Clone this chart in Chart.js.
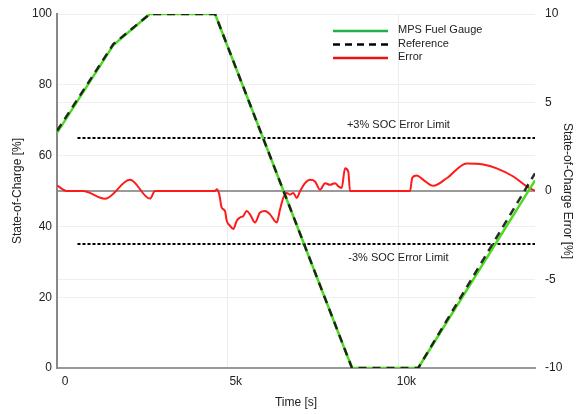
<!DOCTYPE html>
<html>
<head>
<meta charset="utf-8">
<script src="https://cdn.jsdelivr.net/npm/chart.js@4.4.0/dist/chart.umd.min.js"></script>
<style>
    html, body { margin: 0; padding: 0; background: #fff; }
    #wrap { width: 577px; height: 414px; }
</style>
</head>
<body>
<div id="wrap"><canvas id="socChart"></canvas></div>
<script>
// SOC profile, time in seconds
const socTime = [0, 1650, 2720, 4630, 8640, 10580, 14000];
const socValues = [66.4, 91.2, 100, 100, 0, 0, 53];
const refValues = [67, 91.5, 100, 100, 0, 0, 55];

// SOC error (right axis, %)
const errTime = [0, 284, 762, 1406, 2138, 2724, 2870, 4628, 4686, 4754, 4824, 4921, 4971, 5067, 5164, 5264,
    5360, 5457, 5556, 5653, 5800, 5946, 6093, 6239, 6435, 6532, 6628, 6728, 6825, 6921, 7021, 7118, 7264,
    7410, 7557, 7703, 7850, 7996, 8143, 8240, 8339, 8436, 8532, 8582, 10340, 10407, 10536, 10729, 11022,
    11414, 12000, 12486, 12879, 13365, 13757, 14000];
const errValues = [0.32, 0, 0, -0.44, 0.63, -0.43, 0, 0, 0.1, -0.2, -0.94, -1.13, -1.68, -1.96, -2.15, -1.68,
    -1.5, -1.41, -1.13, -1.32, -1.78, -1.22, -1.13, -1.32, -1.78, -1.04, -0.39, -0.11, -0.21, -0.11, -0.39, -0.02, 0.44,
    0.63, 0.54, 0.07, 0.44, 0.35, 0.44, 0.26, 0.17, 1.28, 1.09, 0, 0, 0.76, 0.87, 0.63, 0.29,
    0.72, 1.56, 1.5, 1.28, 0.82, 0.26, 0.02];

// error limits
const limitTime = [600, 14000];
const limitValues = [3, -3];
const limitLabels = ['+3% SOC Error Limit', '-3% SOC Error Limit'];

const legendNames = ['MPS Fuel Gauge', 'Reference', 'Error'];
const xTicks = [0, 5000, 10000];

const toPoints = (xs, ys) => xs.map((x, i) => ({x: x, y: ys[i]}));

// legend drawn inside the plot, top right
const legendPlugin = {
    id: 'innerLegend',
    afterDraw: function (chart) {
        const ctx = chart.ctx;
        const items = [
            {name: legendNames[0], color: '#1fb24a', dash: []},
            {name: legendNames[1], color: '#000', dash: [7, 5]},
            {name: legendNames[2], color: '#ee1111', dash: []}
        ];
        ctx.save();
        ctx.font = "11px 'Liberation Sans', Arial, sans-serif";
        ctx.textBaseline = 'middle';
        items.forEach(function (it, i) {
            const y = 31 + i * 13.5;
            ctx.strokeStyle = it.color;
            ctx.lineWidth = 2.5;
            ctx.setLineDash(it.dash);
            ctx.beginPath();
            ctx.moveTo(333, y);
            ctx.lineTo(388, y);
            ctx.stroke();
            ctx.fillStyle = '#222';
            ctx.fillText(it.name, 398, y - 1);
        });
        ctx.restore();
    }
};

// labels over the limit lines
const limitLabelPlugin = {
    id: 'limitLabels',
    afterDatasetsDraw: function (chart) {
        const ctx = chart.ctx;
        const xs = chart.scales.x;
        const ys = chart.scales.y2;
        ctx.save();
        ctx.font = "11px 'Liberation Sans', Arial, sans-serif";
        ctx.fillStyle = '#222';
        ctx.textAlign = 'center';
        ctx.textBaseline = 'middle';
        limitValues.forEach(function (v, i) {
            const off = v > 0 ? -13 : 14;
            ctx.fillText(limitLabels[i], xs.getPixelForValue(10000), ys.getPixelForValue(v) + off);
        });
        ctx.restore();
    }
};

const limitSets = limitValues.map(function (v) {
    return {
        label: 'limit',
        data: toPoints(limitTime, [v, v]),
        yAxisID: 'y2',
        borderColor: '#000',
        borderWidth: 2,
        borderDash: [3, 2],
        pointRadius: 0
    };
});

// fixed widths, no extra room for the end labels
const fitY = w => function (s) { s.width = w; s.paddingTop = 0; s.paddingBottom = 0; };

new Chart(document.getElementById('socChart'), {
    type: 'line',
    data: {
        datasets: [{
            label: legendNames[1],
            data: toPoints(socTime, refValues),
            yAxisID: 'y',
            borderColor: 'rgba(20, 20, 20, 0.9)',
            borderWidth: 2.5,
            borderDash: [8, 6],
            pointRadius: 0
        }, {
            label: legendNames[0],
            data: toPoints(socTime, socValues),
            yAxisID: 'y',
            borderColor: '#4bdc22',
            borderWidth: 2.5,
            pointRadius: 0
        }, {
            label: legendNames[2],
            data: toPoints(errTime, errValues),
            yAxisID: 'y2',
            borderColor: '#ff1a1a',
            borderWidth: 2,
            pointRadius: 0,
            cubicInterpolationMode: 'monotone'
        }].concat(limitSets)
    },
    options: {
        responsive: true,
        maintainAspectRatio: false,
        animation: false,
        layout: { padding: { top: 14, left: 0, right: 0, bottom: 0 } },
        plugins: {
            legend: { display: false },
            tooltip: { enabled: false }
        },
        scales: {
            x: {
                type: 'linear',
                min: 0,
                max: 14000,
                afterBuildTicks: function (s) { s.ticks = xTicks.map(v => ({value: v})); },
                afterFit: function (s) { s.height = 46; s.paddingLeft = 0; s.paddingRight = 0; },
                ticks: {
                    color: '#222',
                    padding: 6,
                    labelOffset: 8,
                    callback: v => v === 0 ? '0' : (v / 1000) + 'k'
                },
                grid: { color: '#ececec', drawTicks: false },
                border: { color: '#999', width: 2 },
                title: { display: true, text: 'Time [s]', color: '#222', font: { size: 12 }, padding: { top: 4 } }
            },
            y: {
                position: 'left',
                min: 0,
                max: 100,
                afterFit: fitY(57),
                ticks: { stepSize: 20, color: '#222', padding: 5 },
                grid: { color: '#efefef', drawTicks: false },
                border: { color: '#888', width: 2 },
                title: { display: true, text: 'State-of-Charge [%]', color: '#222', font: { size: 12 }, padding: { top: 10, bottom: 0 } }
            },
            y2: {
                position: 'right',
                min: -10,
                max: 10,
                afterFit: fitY(42),
                ticks: { stepSize: 5, color: '#222', padding: 10 },
                grid: {
                    drawTicks: false,
                    color: c => c.tick && c.tick.value === 0 ? '#9a9a9a' : '#efefef',
                    lineWidth: c => c.tick && c.tick.value === 0 ? 2 : 1
                },
                border: { display: false },
                title: { display: true, text: 'State-of-Charge Error [%]', color: '#222', font: { size: 12 }, padding: { top: 2, bottom: 2 } }
            }
        }
    },
    plugins: [legendPlugin, limitLabelPlugin]
});
</script>
</body>
</html>
